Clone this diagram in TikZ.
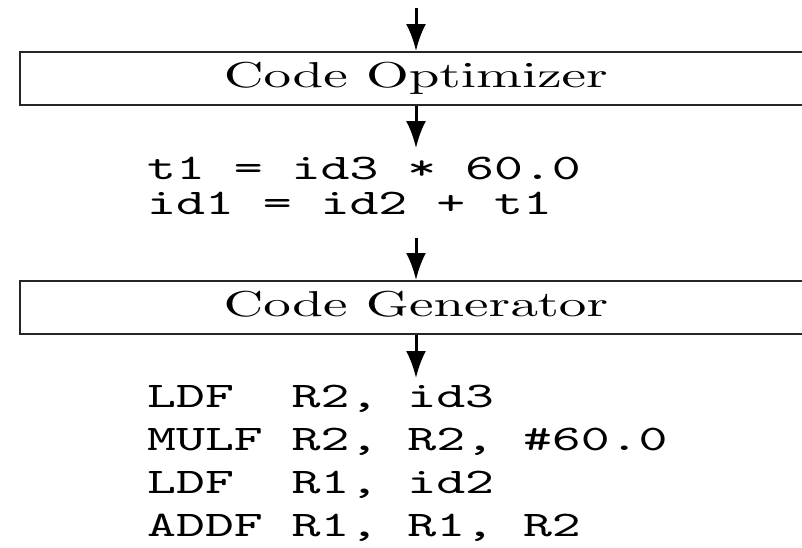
\documentclass[tikz,border=0pt]{standalone}
\usetikzlibrary{arrows.meta}
\font\stagefont=cmr10 at 36pt
\font\codefont=cmtt10 at 36pt
\tikzset{
  stage/.style={draw=black!85, line width=2pt, minimum width=792pt,
    minimum height=53pt, inner sep=0pt, text height=25pt, text depth=8pt,
    font=\stagefont},
  flow/.style={line width=3pt, -{Latex[length=27pt,width=20pt]}},
  code/.style={anchor=base west, inner sep=0pt, font=\codefont},
}
\newcommand{\wide}[1]{\scalebox{1.53}[1]{#1}}
\begin{document}
\begin{tikzpicture}[x=1pt,y=-1pt]
    \useasboundingbox (0,0) rectangle (802,547);
    \coordinate (in) at (416,8);
    \node[stage] (opt) at (416,78.5) {\wide{Code Optimizer}};
    \coordinate (irtop) at (416,148);
    \node[code] (ir1) at (147,179) {\wide{t1 = id3 * 60.0}};
    \node[code] (ir2) at (147,214) {\wide{id1 = id2 + t1}};
    \coordinate (irbot) at (416,238);
    \node[stage] (gen) at (416,307.5) {\wide{Code Generator}};
    \coordinate (asmtop) at (416,378);
    \foreach \instr [count=\i] in {{LDF\ \ R2, id3},{MULF R2, R2, \#60.0},
      {LDF\ \ R1, id2},{ADDF R1, R1, R2}}
      \node[code] (asm\i) at (147,363.7+43.3*\i) {\wide{\instr}};
    \draw[flow] (in) -- (opt);
    \draw[flow] (opt) -- (irtop);
    \draw[flow] (irbot) -- (gen);
    \draw[flow] (gen) -- (asmtop);
  \end{tikzpicture}
\end{document}
